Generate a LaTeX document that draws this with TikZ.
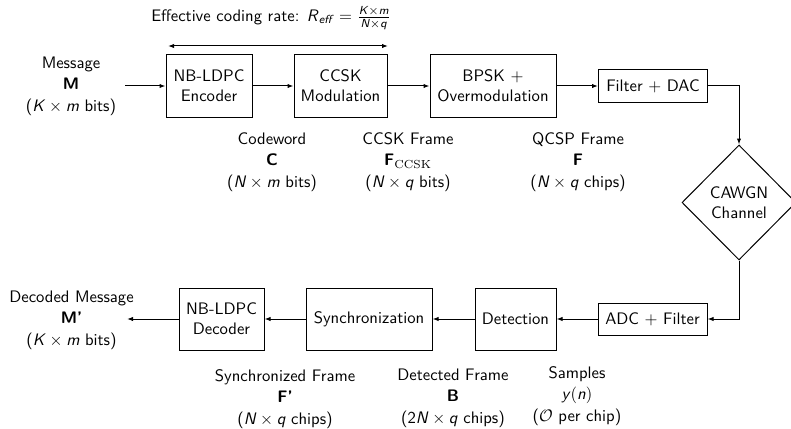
\documentclass[tikz,border=0pt]{standalone}
\usepackage{amsmath}
\usetikzlibrary{arrows.meta,shapes.geometric}
\newcommand{\smi}[1]{\text{\textit{#1}}}
\begin{document}
\begin{tikzpicture}[x=0.6pt,y=-0.6pt, font=\sffamily, line width=0.6pt,
  >={Latex[length=3.6pt,width=2.6pt]},
  blk/.style={draw, rectangle, align=center, inner sep=2pt, minimum height=62*0.6pt},
  lbl/.style={align=center, inner sep=0pt, font=\sffamily\fontsize{10}{13}\selectfont}]
\useasboundingbox (0,0) rectangle (791,429);

% transmitter chain
\node[blk, minimum width=86*0.6pt] (enc) at (209,86) {NB-LDPC\\Encoder};
\node[blk, minimum width=93*0.6pt] (ccsk) at (340.5,86) {CCSK\\Modulation};
\node[blk, minimum width=126*0.6pt] (bpsk) at (493,86) {BPSK $+$\\Overmodulation};
\node[blk, minimum width=109*0.6pt, minimum height=32*0.6pt] (dac) at (653,86) {Filter $+$ DAC};
\node[draw, diamond, align=center, inner sep=0pt, minimum width=114*0.6pt, minimum height=115*0.6pt] (ch) at (739,202.5) {CAWGN\\Channel};

% receiver chain
\node[blk, minimum width=109*0.6pt, minimum height=32*0.6pt] (adc) at (652.5,319) {ADC $+$ Filter};
\node[blk, minimum width=81*0.6pt] (det) at (515.5,319) {Detection};
\node[blk, minimum width=126*0.6pt] (sync) at (369,319) {Synchronization};
\node[blk, minimum width=85*0.6pt] (dec) at (221.5,319) {NB-LDPC\\Decoder};

% labels
\node[lbl] (title) at (271,18) {Effective coding rate: $\smi{R}_{\smi{eff}} = \frac{\smi{K}\times\smi{m}}{\smi{N}\times\smi{q}}$};
\node[lbl] (msg) at (71,86) {Message\\\textbf{M}\\($\smi{K}\times\smi{m}$ bits)};
\node[lbl] (cw) at (272,162) {Codeword\\\textbf{C}\\($\smi{N}\times\smi{m}$ bits)};
\node[lbl] (cf) at (408,162) {CCSK Frame\\$\text{\textbf{F}}_{\mathrm{CCSK}}$\\($\smi{N}\times\smi{q}$ bits)};
\node[lbl] (qf) at (578,162) {QCSP Frame\\\textbf{F}\\($\smi{N}\times\smi{q}$ chips)};
\node[lbl] (dm) at (71.5,320) {Decoded Message\\\textbf{M'}\\($\smi{K}\times\smi{m}$ bits)};
\node[lbl] (sf) at (285,399) {Synchronized Frame\\\textbf{F'}\\($\smi{N}\times\smi{q}$ chips)};
\node[lbl] (df) at (453,398) {Detected Frame\\\textbf{B}\\($\text{2}\smi{N}\times\smi{q}$ chips)};
\node[lbl] (sm) at (577,396) {Samples\\$\smi{y}(\smi{n})$\\($\mathcal{O}$ per chip)};

% connectors
\coordinate (ra) at (168,46);
\coordinate (rb) at (388,46);
\coordinate (min) at (125,86);
\coordinate (mout) at (127,319);
\draw[<->] (ra) -- (rb);
\draw[->] (min) -- (enc);
\draw[->] (enc) -- (ccsk);
\draw[->] (ccsk) -- (bpsk);
\draw[->] (bpsk) -- (dac);
\draw[->] (dac.east) -| (ch.north);
\draw[->] (ch.south) |- (adc.east);
\draw[->] (adc) -- (det);
\draw[->] (det) -- (sync);
\draw[->] (sync) -- (dec);
\draw[->] (dec) -- (mout);
\end{tikzpicture}
\end{document}
